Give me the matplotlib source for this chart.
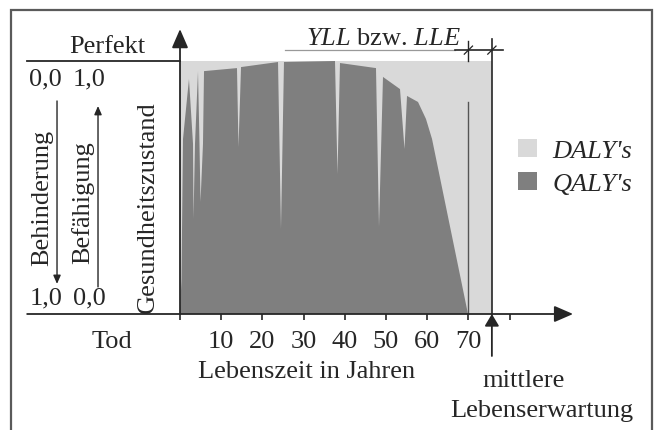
import matplotlib
matplotlib.use("Agg")
import matplotlib.pyplot as plt
from matplotlib.patches import Rectangle

plt.rcParams['font.family'] = ['Liberation Serif', 'DejaVu Serif']
plt.rcParams['mathtext.fontset'] = 'custom'
plt.rcParams['mathtext.rm'] = 'Liberation Serif'
plt.rcParams['mathtext.it'] = 'Liberation Serif:italic'

# health state over a life (QALY profile), age in years, 0 = Tod, 1 = Perfekt
ages = [0, 0.36, 0.73, 2.18, 3.16, 3.28, 3.64, 4.37, 4.73, 4.98, 5.58, 5.83,
        13.83, 14.2, 14.81, 23.79, 24.51, 25.24, 37.62, 38.23, 38.83, 47.57,
        48.3, 49.27, 53.4, 54.49, 55.1, 57.77, 59.7, 61.17, 69.9]
health = [0, 0.138, 0.692, 0.929, 0.672, 0.375, 0.672, 0.96, 0.672, 0.443,
          0.672, 0.96, 0.972, 0.66, 0.976, 0.996, 0.336, 0.996, 1.0, 0.553,
          0.992, 0.972, 0.344, 0.937, 0.889, 0.652, 0.862, 0.838, 0.771,
          0.692, 0.0]
death_age = 70
life_expectancy = 75.7
tick_values = [0, 10, 20, 30, 40, 50, 60, 70, 80]
tick_labels = ['', '10', '20', '30', '40', '50', '60', '70', '']

LIGHT = '#d9d9d9'
DARK = '#7f7f7f'
INK = '#262626'
FS = 19

W, H = 654, 431
fig = plt.figure(figsize=(W / 100, H / 100), dpi=100)
# one year = 4.12 px, health 0..1 = 253 px
ax = fig.add_axes([180 / W, 116 / H, 412 / W, 253 / H])
ax.set_xlim(0, 100)
ax.set_ylim(0, 1)
ax.axis('off')

ax.fill_between([0, life_expectancy], 0, 1, color=LIGHT, lw=0, label="DALY's")
ax.fill(ages, health, color=DARK, lw=0, label="QALY's")

def arrow(x0, y0, x1, y1, hl, hw, lw=1.3):
    ax.annotate('', xy=(x1, y1), xytext=(x0, y0), annotation_clip=False,
                arrowprops=dict(arrowstyle='-|>,head_length=%s,head_width=%s' % (hl, hw),
                                mutation_scale=10, color=INK, lw=lw,
                                shrinkA=0, shrinkB=0))

# axes
arrow(-37.1, 0, 95.4, 0, 1.15, 0.5)
arrow(0, 0, 0, 1.126, 1.15, 0.5)
ax.plot([-37.1, 0], [1, 1], color=INK, lw=1.3, clip_on=False)
ax.vlines(tick_values, -0.022, 0, color=INK, lw=1.2, clip_on=False)
for t, lab in zip(tick_values, tick_labels):
    ax.text(t, -0.13, lab, ha='center', va='baseline', fontsize=FS, color=INK)

# life expectancy and YLL/LLE dimension
arrow(life_expectancy, -0.166, life_expectancy, 0, 0.72, 0.43)
ax.plot([life_expectancy, life_expectancy], [0, 1.087], color=INK, lw=1.2, clip_on=False)
ax.plot([death_age, death_age], [0, 0.838], color='#555555', lw=1.0, clip_on=False)
ax.plot([death_age, death_age], [1.0, 1.079], color=INK, lw=1.0, clip_on=False)
ax.plot([25.5, 66.7], [1.043, 1.043], color='#999999', lw=0.9, clip_on=False)
ax.plot([66.7, 78.4], [1.043, 1.043], color=INK, lw=1.2, clip_on=False)
for xm in (death_age, life_expectancy):
    ax.plot([xm - 1.0, xm + 1.0], [1.027, 1.059], color=INK, lw=0.9, clip_on=False)
ax.text(49.3, 1.067, r"$YLL$ bzw. $LLE$", ha='center', va='baseline',
        fontsize=FS, color=INK)

# left side scale
ax.text(-17.7, 1.036, 'Perfekt', ha='center', va='baseline', fontsize=FS, color=INK)
ax.text(-16.5, -0.13, 'Tod', ha='center', va='baseline', fontsize=FS, color=INK)
ax.text(-32.6, 0.909, '0,0', ha='center', va='baseline', fontsize=FS, color=INK)
ax.text(-22.1, 0.909, '1,0', ha='center', va='baseline', fontsize=FS, color=INK)
ax.text(-32.6, 0.04, '1,0', ha='center', va='baseline', fontsize=FS, color=INK)
ax.text(-22.1, 0.04, '0,0', ha='center', va='baseline', fontsize=FS, color=INK)
ax.text(-33.5, 0.464, 'Behinderung', rotation=90, ha='center', va='center',
        fontsize=FS, color=INK)
ax.text(-23.5, 0.445, 'Befähigung', rotation=90, ha='center', va='center',
        fontsize=FS, color=INK)
ax.text(-7.77, 0.425, 'Gesundheitszustand', rotation=90, ha='center', va='center',
        fontsize=FS, color=INK)
arrow(-29.85, 0.842, -29.85, 0.119, 0.5, 0.22, lw=1.0)
arrow(-19.9, 0.107, -19.9, 0.822, 0.5, 0.22, lw=1.0)

# x axis title, life expectancy label
ax.text(30.6, -0.249, 'Lebenszeit in Jahren', ha='center', va='baseline',
        fontsize=FS, color=INK)
ax.text(83.4, -0.285, 'mittlere', ha='center', va='baseline', fontsize=FS, color=INK)
ax.text(87.9, -0.403, 'Lebenserwartung', ha='center', va='baseline',
        fontsize=FS, color=INK)

ax.legend(loc='upper left', bbox_to_anchor=(518 / W, 1 - 140 / H),
          bbox_transform=fig.transFigure, frameon=False, borderpad=0,
          borderaxespad=0, handlelength=0.72, handleheight=0.7,
          handletextpad=0.58, labelspacing=0.36,
          prop={'family': 'Liberation Serif', 'style': 'italic', 'size': FS},
          labelcolor=INK)

fig.add_artist(Rectangle((11 / W, -0.1), 641 / W, 1.1 - 11 / H, transform=fig.transFigure,
                         fill=False, ec='#5a5a5a', lw=1.6))

fig.savefig('out.png', dpi=100)
